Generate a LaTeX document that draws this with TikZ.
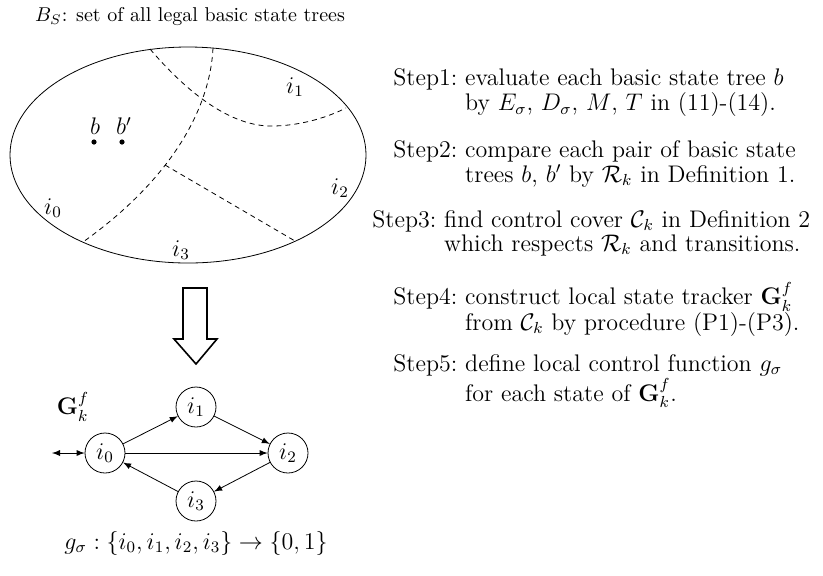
\documentclass[tikz,border=0pt]{standalone}
\usepackage{amsfonts, amssymb, amsmath}
\usepackage{xcolor}
\usepackage{tikz}
\usetikzlibrary{calc}

\tikzset{
  state/.style={draw, circle, thin, minimum size=20pt, inner sep=0pt, font=\fontsize{12}{13}\selectfont},
  trans/.style={thin, -latex},
  part/.style={thin, dashed, dash pattern=on 2.5pt off 2pt},
  steptext/.style={anchor=north west, inner sep=0pt, align=left, font=\fontsize{12}{12}\selectfont}
}

\begin{document}
\begin{tikzpicture}[x=0.5pt, y=-0.5pt, font=\fontsize{11.5}{13}\selectfont]
\useasboundingbox (0,0) rectangle (823,575);

\node [font=\normalsize] (title) at (190,17) {$B_S$: set of all legal basic state trees};
\draw [thin] (188,155) ellipse [x radius=178, y radius=108];
\draw [part] (150,49) .. controls (185,90) and (230,128) .. (275,126) .. controls (305,125) and (330,116) .. (346,108);
\draw [part] (213,48) .. controls (210,110) and (170,180) .. (83,242);
\draw [part] (165,165) -- (295,241);
\node (r1) at (295,87) {$i_1$};
\node (r2) at (340,188) {$i_2$};
\node (r0) at (53,208) {$i_0$};
\node (r3) at (181,250) {$i_3$};
\fill (94,142) circle [radius=1.3pt];
\fill (122,142) circle [radius=1.3pt];
\node (b) at (95,126) {$b$};
\node (bp) at (124,126) {$b'$};

\draw [thick] (183,288) -- (207,288) -- (207,339) -- (217,339) -- (196,364) -- (174,339) -- (183,339) -- cycle;

\node [state] (i0) at (105,453) {$i_0$};
\node [state] (i1) at (196,407) {$i_1$};
\node [state] (i2) at (288,453) {$i_2$};
\node [state] (i3) at (196,501) {$i_3$};
\node [font=\fontsize{12}{13}\selectfont] (G) at (73,407) {$\mathbf{G}_k^f$};
\coordinate (in) at (52,453);
\draw [thin, latex-latex] (in) -- (i0);
\draw [trans] (i0) -- (i1);
\draw [trans] (i1) -- (i2);
\draw [trans] (i0) -- (i2);
\draw [trans] (i2) -- (i3);
\draw [trans] (i3) -- (i0);
\node (gmap) at (196,543) {$g_\sigma:\{i_0,i_1,i_2,i_3\}\rightarrow\{0,1\}$};

\node [steptext] (step1) at (393,68) {\begin{tabular}{@{}l@{\ }l@{}}Step1: & evaluate each basic state tree $b$\\ & by $E_\sigma$, $D_\sigma$, $M$, $T$ in (11)-(14).\end{tabular}};
\node [steptext] (step2) at (393,140) {\begin{tabular}{@{}l@{\ }l@{}}Step2: & compare each pair of basic state\\ & trees $b$, $b'$ by $\mathcal{R}_k$ in Definition 1.\end{tabular}};
\node [steptext] (step3) at (372,210) {\begin{tabular}{@{}l@{\ }l@{}}Step3: & find control cover $\mathcal{C}_k$ in Definition 2\\ & which respects $\mathcal{R}_k$ and transitions.\end{tabular}};
\node [steptext] (step4) at (393,282) {\begin{tabular}{@{}l@{\ }l@{}}Step4: & construct local state tracker $\mathbf{G}_k^f$\\ & from $\mathcal{C}_k$ by procedure (P1)-(P3).\end{tabular}};
\node [steptext] (step5) at (393,354) {\begin{tabular}{@{}l@{\ }l@{}}Step5: & define local control function $g_\sigma$\\ & for each state of $\mathbf{G}_k^f$.\end{tabular}};
\end{tikzpicture}
\end{document}
